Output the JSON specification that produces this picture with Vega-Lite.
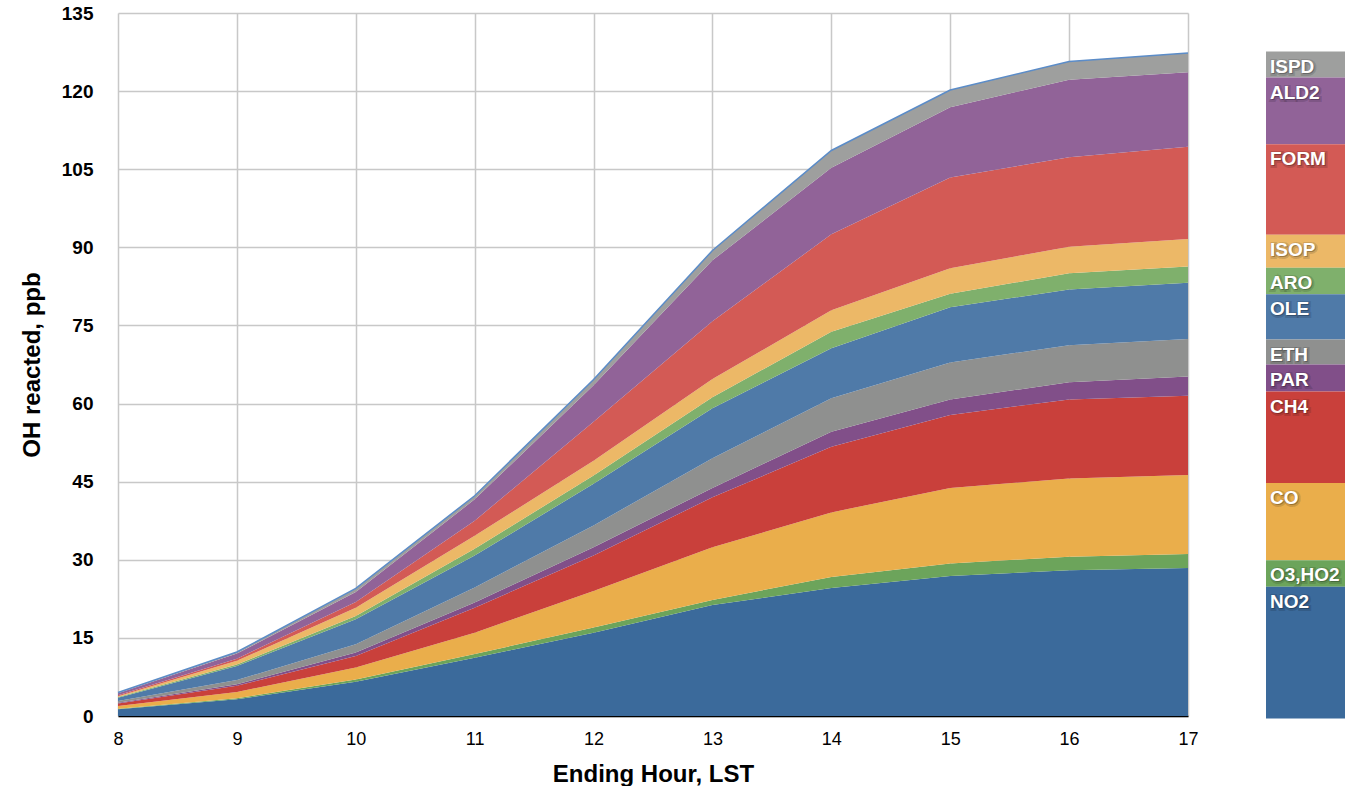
{
  "$schema": "https://vega.github.io/schema/vega-lite/v6.json",
  "background": "white",
  "padding": {"left": 20, "top": 4, "right": 0, "bottom": 0},
  "bounds": "flush",
  "spacing": 78,
  "config": {
    "font": "Liberation Sans",
    "view": {"stroke": null}
  },
  "datasets": {
    "main": [
      {"hour": 8, "species": "NO2", "value": 1.3}, {"hour": 8, "species": "O3,HO2", "value": 0.1}, {"hour": 8, "species": "CO", "value": 0.5}, {"hour": 8, "species": "CH4", "value": 0.5}, {"hour": 8, "species": "PAR", "value": 0.15}, {"hour": 8, "species": "ETH", "value": 0.35}, {"hour": 8, "species": "OLE", "value": 0.6}, {"hour": 8, "species": "ARO", "value": 0.15}, {"hour": 8, "species": "ISOP", "value": 0.15}, {"hour": 8, "species": "FORM", "value": 0.2}, {"hour": 8, "species": "ALD2", "value": 0.35}, {"hour": 8, "species": "ISPD", "value": 0.15},
      {"hour": 9, "species": "NO2", "value": 3.2}, {"hour": 9, "species": "O3,HO2", "value": 0.2}, {"hour": 9, "species": "CO", "value": 1.2}, {"hour": 9, "species": "CH4", "value": 1.2}, {"hour": 9, "species": "PAR", "value": 0.3}, {"hour": 9, "species": "ETH", "value": 0.8}, {"hour": 9, "species": "OLE", "value": 2.7}, {"hour": 9, "species": "ARO", "value": 0.3}, {"hour": 9, "species": "ISOP", "value": 0.7}, {"hour": 9, "species": "FORM", "value": 0.4}, {"hour": 9, "species": "ALD2", "value": 1.0}, {"hour": 9, "species": "ISPD", "value": 0.3},
      {"hour": 10, "species": "NO2", "value": 6.6}, {"hour": 10, "species": "O3,HO2", "value": 0.4}, {"hour": 10, "species": "CO", "value": 2.3}, {"hour": 10, "species": "CH4", "value": 2.2}, {"hour": 10, "species": "PAR", "value": 0.7}, {"hour": 10, "species": "ETH", "value": 1.6}, {"hour": 10, "species": "OLE", "value": 4.8}, {"hour": 10, "species": "ARO", "value": 0.6}, {"hour": 10, "species": "ISOP", "value": 1.6}, {"hour": 10, "species": "FORM", "value": 1.1}, {"hour": 10, "species": "ALD2", "value": 1.9}, {"hour": 10, "species": "ISPD", "value": 0.7},
      {"hour": 11, "species": "NO2", "value": 11.2}, {"hour": 11, "species": "O3,HO2", "value": 0.7}, {"hour": 11, "species": "CO", "value": 4.1}, {"hour": 11, "species": "CH4", "value": 4.8}, {"hour": 11, "species": "PAR", "value": 1.0}, {"hour": 11, "species": "ETH", "value": 2.9}, {"hour": 11, "species": "OLE", "value": 6.1}, {"hour": 11, "species": "ARO", "value": 1.3}, {"hour": 11, "species": "ISOP", "value": 2.5}, {"hour": 11, "species": "FORM", "value": 2.9}, {"hour": 11, "species": "ALD2", "value": 4.1}, {"hour": 11, "species": "ISPD", "value": 0.7},
      {"hour": 12, "species": "NO2", "value": 16.0}, {"hour": 12, "species": "O3,HO2", "value": 1.0}, {"hour": 12, "species": "CO", "value": 7.0}, {"hour": 12, "species": "CH4", "value": 6.8}, {"hour": 12, "species": "PAR", "value": 1.6}, {"hour": 12, "species": "ETH", "value": 4.2}, {"hour": 12, "species": "OLE", "value": 8.0}, {"hour": 12, "species": "ARO", "value": 1.6}, {"hour": 12, "species": "ISOP", "value": 2.8}, {"hour": 12, "species": "FORM", "value": 7.5}, {"hour": 12, "species": "ALD2", "value": 7.0}, {"hour": 12, "species": "ISPD", "value": 1.1},
      {"hour": 13, "species": "NO2", "value": 21.3}, {"hour": 13, "species": "O3,HO2", "value": 1.0}, {"hour": 13, "species": "CO", "value": 10.1}, {"hour": 13, "species": "CH4", "value": 9.6}, {"hour": 13, "species": "PAR", "value": 1.8}, {"hour": 13, "species": "ETH", "value": 5.7}, {"hour": 13, "species": "OLE", "value": 9.6}, {"hour": 13, "species": "ARO", "value": 2.1}, {"hour": 13, "species": "ISOP", "value": 3.5}, {"hour": 13, "species": "FORM", "value": 11.1}, {"hour": 13, "species": "ALD2", "value": 11.7}, {"hour": 13, "species": "ISPD", "value": 1.9},
      {"hour": 14, "species": "NO2", "value": 24.6}, {"hour": 14, "species": "O3,HO2", "value": 2.1}, {"hour": 14, "species": "CO", "value": 12.4}, {"hour": 14, "species": "CH4", "value": 12.6}, {"hour": 14, "species": "PAR", "value": 2.9}, {"hour": 14, "species": "ETH", "value": 6.4}, {"hour": 14, "species": "OLE", "value": 9.6}, {"hour": 14, "species": "ARO", "value": 3.2}, {"hour": 14, "species": "ISOP", "value": 4.1}, {"hour": 14, "species": "FORM", "value": 14.6}, {"hour": 14, "species": "ALD2", "value": 12.8}, {"hour": 14, "species": "ISPD", "value": 3.3},
      {"hour": 15, "species": "NO2", "value": 26.9}, {"hour": 15, "species": "O3,HO2", "value": 2.4}, {"hour": 15, "species": "CO", "value": 14.5}, {"hour": 15, "species": "CH4", "value": 14.0}, {"hour": 15, "species": "PAR", "value": 3.0}, {"hour": 15, "species": "ETH", "value": 7.1}, {"hour": 15, "species": "OLE", "value": 10.6}, {"hour": 15, "species": "ARO", "value": 2.6}, {"hour": 15, "species": "ISOP", "value": 4.9}, {"hour": 15, "species": "FORM", "value": 17.4}, {"hour": 15, "species": "ALD2", "value": 13.5}, {"hour": 15, "species": "ISPD", "value": 3.3},
      {"hour": 16, "species": "NO2", "value": 28.0}, {"hour": 16, "species": "O3,HO2", "value": 2.6}, {"hour": 16, "species": "CO", "value": 15.0}, {"hour": 16, "species": "CH4", "value": 15.2}, {"hour": 16, "species": "PAR", "value": 3.3}, {"hour": 16, "species": "ETH", "value": 7.1}, {"hour": 16, "species": "OLE", "value": 10.7}, {"hour": 16, "species": "ARO", "value": 3.1}, {"hour": 16, "species": "ISOP", "value": 5.1}, {"hour": 16, "species": "FORM", "value": 17.2}, {"hour": 16, "species": "ALD2", "value": 14.9}, {"hour": 16, "species": "ISPD", "value": 3.5},
      {"hour": 17, "species": "NO2", "value": 28.4}, {"hour": 17, "species": "O3,HO2", "value": 2.7}, {"hour": 17, "species": "CO", "value": 15.2}, {"hour": 17, "species": "CH4", "value": 15.2}, {"hour": 17, "species": "PAR", "value": 3.7}, {"hour": 17, "species": "ETH", "value": 7.2}, {"hour": 17, "species": "OLE", "value": 10.8}, {"hour": 17, "species": "ARO", "value": 3.1}, {"hour": 17, "species": "ISOP", "value": 5.3}, {"hour": 17, "species": "FORM", "value": 17.7}, {"hour": 17, "species": "ALD2", "value": 14.3}, {"hour": 17, "species": "ISPD", "value": 3.7}
    ],
    "legend": [
      {"species": "ISPD", "lo": 122.6, "hi": 127.6},
      {"species": "ALD2", "lo": 109.8, "hi": 122.6},
      {"species": "FORM", "lo": 92.4, "hi": 109.8},
      {"species": "ISOP", "lo": 86.1, "hi": 92.4},
      {"species": "ARO", "lo": 81.0, "hi": 86.1},
      {"species": "OLE", "lo": 72.3, "hi": 81.0},
      {"species": "ETH", "lo": 67.5, "hi": 72.3},
      {"species": "PAR", "lo": 62.3, "hi": 67.5},
      {"species": "CH4", "lo": 44.75, "hi": 62.3},
      {"species": "CO", "lo": 29.9, "hi": 44.75},
      {"species": "O3,HO2", "lo": 24.8, "hi": 29.9},
      {"species": "NO2", "lo": -0.5, "hi": 24.8}
    ]
  },
  "hconcat": [
    {
      "width": 1070,
      "height": 703,
      "data": {"name": "main"},
      "transform": [
        {"calculate": "indexof(['NO2','O3,HO2','CO','CH4','PAR','ETH','OLE','ARO','ISOP','FORM','ALD2','ISPD'], datum.species)", "as": "ord"}
      ],
      "layer": [
        {
          "mark": {"type": "area", "interpolate": "linear"},
          "encoding": {
            "x": {
              "field": "hour", "type": "quantitative",
              "scale": {"domain": [8, 17], "nice": false},
              "axis": {
                "values": [8, 9, 10, 11, 12, 13, 14, 15, 16, 17],
                "format": "d",
                "title": "Ending Hour, LST",
                "grid": true, "gridColor": "#c8c8c8", "gridWidth": 1.5,
                "ticks": false, "domain": true, "domainColor": "#000000", "domainWidth": 1.5,
                "labelFontSize": 18, "labelColor": "#000000", "labelPadding": 14, "labelFlush": false,
                "titleFontSize": 24, "titleFontWeight": "bold", "titleColor": "#000000", "titlePadding": 14
              }
            },
            "y": {
              "field": "value", "type": "quantitative", "stack": "zero",
              "title": "OH reacted, ppb",
              "scale": {"domain": [0, 135], "nice": false},
              "axis": {
                "values": [0, 15, 30, 45, 60, 75, 90, 105, 120, 135],
                "grid": true, "gridColor": "#c8c8c8", "gridWidth": 1.5,
                "ticks": false, "domain": false,
                "labelFontSize": 19, "labelFontWeight": "bold", "labelColor": "#000000", "labelPadding": 25,
                "titleFontSize": 24, "titleFontWeight": "bold", "titleColor": "#000000", "titlePadding": 17
              }
            },
            "color": {
              "field": "species", "type": "nominal", "legend": null,
              "scale": {
                "domain": ["NO2", "O3,HO2", "CO", "CH4", "PAR", "ETH", "OLE", "ARO", "ISOP", "FORM", "ALD2", "ISPD"],
                "range": ["#3b6a9b", "#6ca45b", "#eaae4b", "#c9403b", "#814f89", "#8f908f", "#4f7aa8", "#7fb06c", "#ecb867", "#d35a55", "#916398", "#9e9f9e"]
              }
            },
            "order": {"field": "ord", "type": "quantitative"}
          }
        },
        {
          "mark": {"type": "line", "color": "#5b8cc8", "strokeWidth": 1.5},
          "encoding": {
            "x": {"field": "hour", "type": "quantitative"},
            "y": {"aggregate": "sum", "field": "value", "type": "quantitative", "title": "OH reacted, ppb"}
          }
        }
      ]
    },
    {
      "width": 79,
      "height": 703,
      "data": {"name": "legend"},
      "layer": [
        {
          "mark": {"type": "bar"},
          "encoding": {
            "x": {"datum": "k", "type": "nominal", "scale": {"paddingInner": 0, "paddingOuter": 0}, "axis": null},
            "y": {"field": "lo", "type": "quantitative", "scale": {"domain": [0, 135], "nice": false}, "axis": null},
            "y2": {"field": "hi"},
            "color": {
              "field": "species", "type": "nominal", "legend": null,
              "scale": {
                "domain": ["NO2", "O3,HO2", "CO", "CH4", "PAR", "ETH", "OLE", "ARO", "ISOP", "FORM", "ALD2", "ISPD"],
                "range": ["#3b6a9b", "#6ca45b", "#eaae4b", "#c9403b", "#814f89", "#8f908f", "#4f7aa8", "#7fb06c", "#ecb867", "#d35a55", "#916398", "#9e9f9e"]
              }
            }
          }
        },
        {
          "mark": {"type": "text", "align": "left", "baseline": "alphabetic", "dx": 5, "dy": 22, "fontSize": 19, "fontWeight": "bold", "fill": "#000000", "fillOpacity": 0.25, "stroke": "#000000", "strokeWidth": 4, "strokeOpacity": 0.12},
          "encoding": {
            "x": {"datum": "k", "type": "nominal", "bandPosition": 0},
            "y": {"field": "hi", "type": "quantitative"},
            "text": {"field": "species"}
          }
        },
        {
          "mark": {"type": "text", "align": "left", "baseline": "alphabetic", "dx": 4, "dy": 21, "fontSize": 19, "fontWeight": "bold", "fill": "#ffffff"},
          "encoding": {
            "x": {"datum": "k", "type": "nominal", "bandPosition": 0},
            "y": {"field": "hi", "type": "quantitative"},
            "text": {"field": "species"}
          }
        }
      ]
    }
  ]
}
